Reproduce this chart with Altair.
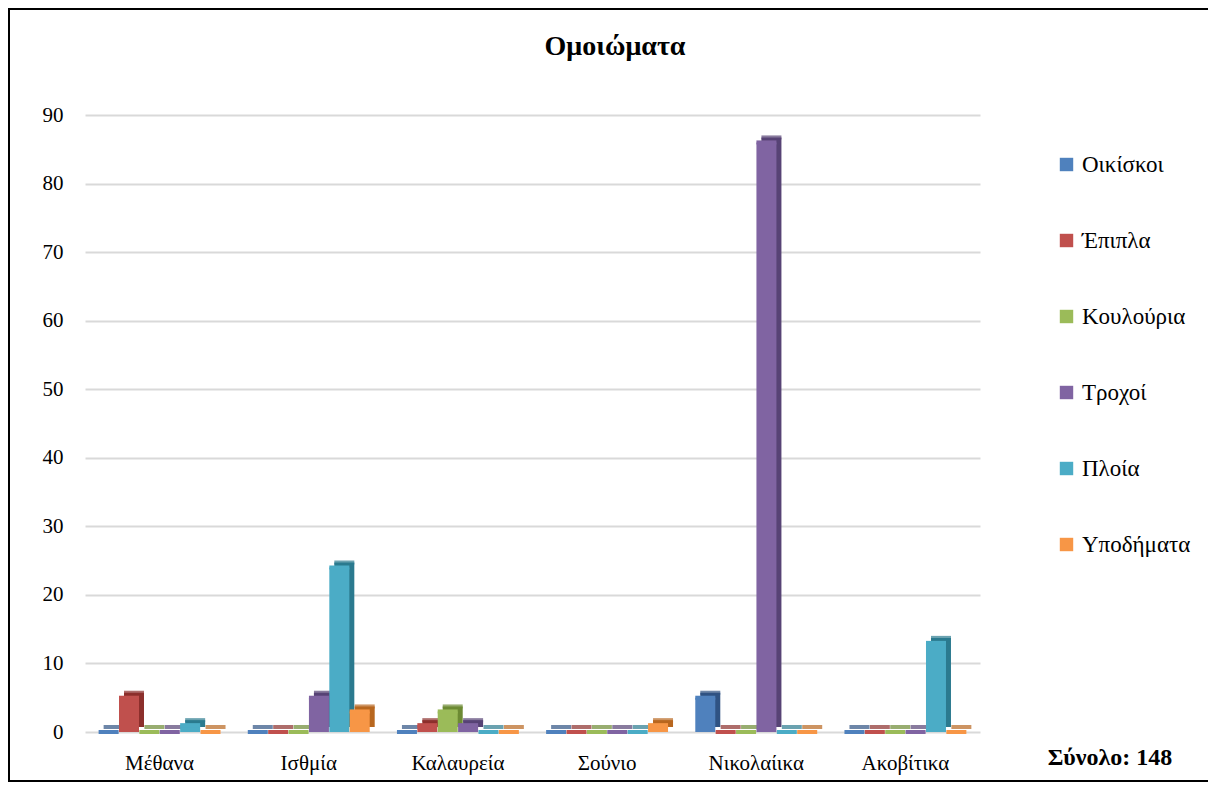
import altair as alt
import pandas as pd

sites = ["Μέθανα", "Ισθμία", "Καλαυρεία", "Σούνιο", "Νικολαίικα", "Ακοβίτικα"]
series = ["Οικίσκοι", "Έπιπλα", "Κουλούρια", "Τροχοί", "Πλοία", "Υποδήματα"]
colors = ["#4F81BD", "#C0504D", "#9BBB59", "#8064A2", "#4BACC6", "#F79646"]
side_colors = ["#2F5383", "#8C2F2C", "#6C8A33", "#574375", "#2B7A8F", "#B8671F"]
title_text = "Ομοιώματα"

oikiskoi   = [0, 0, 0, 0, 5, 0]
epipla     = [5, 0, 1, 0, 0, 0]
koulouria  = [0, 0, 3, 0, 0, 0]
trochoi    = [0, 5, 1, 0, 86, 0]
ploia      = [1, 24, 0, 0, 0, 13]
ypodimata  = [0, 3, 0, 1, 0, 0]

values = [oikiskoi, epipla, koulouria, trochoi, ploia, ypodimata]
rows = []
for s, vals in zip(series, values):
    for site, v in zip(sites, vals):
        rows.append({"site": site, "series": s, "value": v})
df = pd.DataFrame(rows)

FONT = "Liberation Serif"
BANDW = 122.3

x = alt.X("site:N", sort=sites, title=None,
          scale=alt.Scale(paddingInner=0.18, paddingOuter=0.09),
          axis=alt.Axis(labelAngle=0, labelFontSize=21, labelFont=FONT, labelColor="#000",
                        labelPadding=20, ticks=False, domain=False, grid=False))
xo = alt.XOffset("series:N", sort=series,
                 scale=alt.Scale(paddingInner=0, paddingOuter=0, range=[0, BANDW]))
xo_side = alt.XOffset("series:N", sort=series,
                      scale=alt.Scale(paddingInner=0, paddingOuter=0, range=[5, BANDW + 5]))
color = alt.Color("series:N", sort=series, scale=alt.Scale(domain=series, range=colors),
                  legend=alt.Legend(title=None, orient="none", legendX=970, legendY=38,
                                    symbolType="square", symbolSize=180, symbolStrokeWidth=0,
                                    labelFontSize=23, labelFont=FONT, labelColor="#000",
                                    rowPadding=52, labelOffset=4))
side_color = alt.Color("series:N", sort=series,
                       scale=alt.Scale(domain=series, range=side_colors), legend=None)
y = alt.Y("value:Q", title=None,
          scale=alt.Scale(domain=[0, 90]),
          axis=alt.Axis(values=list(range(0, 91, 10)), labelFontSize=21, labelFont=FONT,
                        labelColor="#000", labelPadding=22, ticks=False, domain=False,
                        gridColor="#d9d9d9", gridWidth=2))

base = alt.Chart(df)
depth_bars = base.mark_bar(size=20, yOffset=-5).encode(
    x=x, xOffset=xo_side, y=y, color=side_color)
depth_tops = base.mark_tick(size=20, thickness=4, yOffset=-5).encode(
    x=x, xOffset=xo_side, y=y, color=side_color)
bars = base.mark_bar(size=20).encode(x=x, xOffset=xo, y=y, color=color)
tops = base.mark_tick(size=20, thickness=4, opacity=1).encode(x=x, xOffset=xo, y=y, color=color)

depth = alt.layer(depth_bars, depth_tops)
front = alt.layer(bars, tops)

total = base.transform_aggregate(total="sum(value)").transform_calculate(
    label="'Σύνολο: ' + datum.total"
).mark_text(font=FONT, fontSize=24, fontWeight="bold", color="#000", align="center",
            baseline="middle").encode(text="label:N", x=alt.value(1025), y=alt.value(643))

title = base.transform_aggregate(n="count()").transform_calculate(
    label=f"'{title_text}'"
).mark_text(font=FONT, fontSize=28, fontWeight="bold", color="#000", align="center",
            baseline="middle").encode(text="label:N", x=alt.value(530), y=alt.value(-68))

frame = base.transform_aggregate(n="count()").mark_rect(
    fill="transparent", stroke="#000", strokeWidth=2
).encode(x=alt.value(-76), x2=alt.value(1130), y=alt.value(-106), y2=alt.value(666))

chart = alt.layer(depth, front, total, title, frame).resolve_scale(
    color="independent", xOffset="independent"
).properties(
    width=895, height=617,
    autosize=alt.AutoSizeParams(type="none"),
    padding={"left": 77, "top": 107, "right": 228, "bottom": 51},
).configure(font=FONT).configure_view(stroke="transparent", strokeWidth=0)

chart.save("out.html", embed_options={"renderer": "svg", "actions": False})
